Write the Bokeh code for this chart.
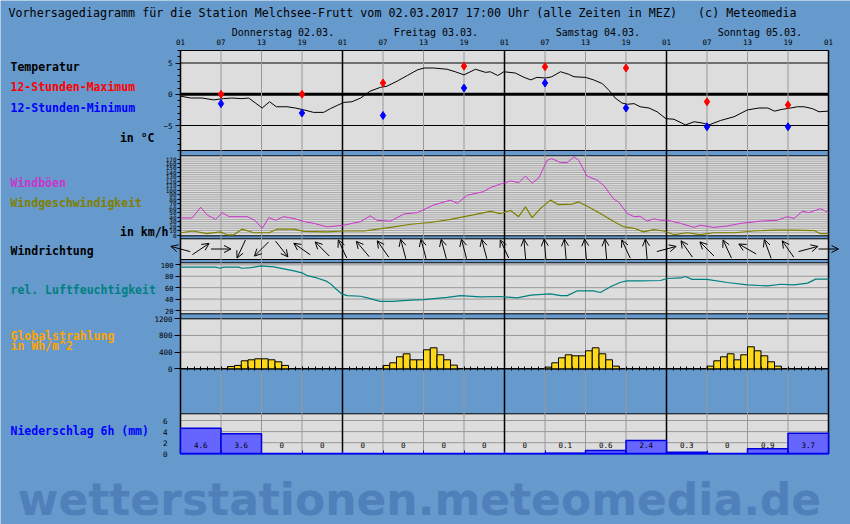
import math
from bokeh.plotting import figure
from bokeh.models import (Range1d, FixedTicker, Label, LinearAxis,
                          ColumnDataSource, Arrow, OpenHead)
from bokeh.core.properties import value
from bokeh.embed import file_html
from bokeh.resources import INLINE

# ---------------- data ----------------
title_text = ("Vorhersagediagramm für die Station Melchsee-Frutt vom 02.03.2017 17:00 Uhr "
              "(alle Zeiten in MEZ)\u00a0\u00a0\u00a0(c) Meteomedia")
day_labels = ["Donnerstag 02.03.", "Freitag 03.03.", "Samstag 04.03.", "Sonntag 05.03."]
hour_ticks = [0, 6, 12, 18, 24, 30, 36, 42, 48, 54, 60, 66, 72, 78, 84, 90, 96]
hour_tick_labels = ["01", "07", "13", "19"] * 4 + ["01"]

# temperature (hours since 02.03. 01:00)
temp_hours = [0, 1.5, 3.2, 4.9, 6.4, 7.6, 9.1, 10.1, 11.1, 12.1, 13.2, 14.2, 15.8, 17, 18.3,
              19.7, 21.2, 22.2, 23.2, 24.2, 25.4, 26.7, 28.1, 29.6, 30.6, 32.1, 33.6, 35.1,
              36.1, 37.5, 39.5, 40.7, 42, 43.7, 45.2, 45.9, 47, 47.9, 49.6, 50.9, 51.9, 52.8,
              54.1, 55, 56.3, 57.5, 58.3, 60, 61.2, 62.5, 63.5, 64.4, 65.4, 66.2, 67.2, 68.1,
              69.4, 70.6, 71.9, 73.1, 74.8, 76.1, 77.3, 78.3, 80, 82, 84, 85.7, 87, 88, 89.2,
              90.4, 91.4, 92.4, 93.6, 94.6, 96]
temp_values = [-0.3, -0.6, -0.6, -0.9, -0.7, -0.6, -0.7, -0.6, -1.4, -2.2, -1.2, -2.0, -2.0,
               -2.2, -2.5, -2.9, -2.9, -2.3, -1.8, -1.3, -1.2, -0.6, 0.5, 1.1, 1.3, 2.1, 3.0,
               3.9, 4.2, 4.2, 4.0, 3.6, 3.1, 4.0, 3.5, 3.6, 3.0, 3.6, 3.4, 2.7, 2.3, 2.7, 2.6,
               2.8, 3.6, 3.2, 2.8, 2.7, 2.3, 1.7, 0.6, -0.6, -1.4, -1.6, -1.5, -2.0, -2.2,
               -2.8, -3.9, -4.0, -4.9, -4.4, -4.6, -4.9, -4.2, -3.6, -2.5, -2.2, -2.2, -2.7,
               -2.4, -2.2, -2.0, -2.0, -2.3, -2.8, -2.7]
ext_hours = [6, 18, 30, 42, 54, 66, 78, 90]
tmax_values = [0.0, 0.0, 1.8, 4.5, 4.4, 4.2, -1.2, -1.7]
tmin_values = [-1.5, -3.0, -3.4, 1.0, 1.8, -2.2, -5.2, -5.2]

# wind gusts (km/h)
gust_hours = [0, 1.7, 3, 4, 5.2, 6.2, 7.2, 9.9, 11, 12.1, 13.1, 14.1, 15.3, 16.8, 18.3, 19.8,
              21.7, 24.2, 26.7, 28.1, 29.1, 31.1, 33.1, 35.1, 37.5, 40, 41, 42.5, 44.9, 45.9,
              47.4, 48.9, 50.1, 51.1, 52.1, 53.1, 54.3, 55, 56.3, 57.3, 58.3, 59, 60.2, 61.7,
              62.7, 64.2, 64.9, 66.2, 67.2, 68.1, 69.1, 70.1, 71.1, 72.1, 74.1, 76.1, 77, 79,
              81, 83, 85.9, 88.4, 89.9, 90.9, 92.1, 93.1, 94.8, 96]
gust_values = [38, 38, 62, 44, 35, 50, 41, 41, 33, 15, 39, 33, 41, 37, 30, 26, 18, 22, 30, 43,
               33, 31, 47, 50, 67, 78, 71, 89, 97, 106, 114, 121, 117, 132, 116, 128, 167, 171,
               162, 162, 175, 167, 132, 123, 111, 80, 74, 48, 41, 42, 31, 36, 33, 33, 26, 17,
               22, 17, 20, 26, 31, 33, 41, 37, 53, 50, 59, 50]
# mean wind speed (km/h)
wind_hours = [0, 1.9, 3.9, 5.9, 6.9, 7.9, 9.1, 10.9, 13.1, 14.3, 16.8, 18.3, 21.7, 24.2, 27.2,
              29.1, 31.1, 34.1, 37, 40, 43, 45.9, 47.4, 48.9, 50.1, 51.1, 52.1, 53.3, 54.8, 56,
              58, 59, 60.2, 62.2, 64.2, 65.7, 67.2, 68.6, 70.1, 71.6, 73.1, 75.1, 77, 79, 82,
              84.9, 87.9, 90.9, 93.9, 94.8, 96]
wind_values = [5, 9, 3, 7, 0.5, 0.5, 13, 5, 5, 13, 13, 8, 7, 9, 9, 13, 17, 24, 28, 35, 44, 53,
               48, 55, 41, 63, 39, 59, 78, 68, 69, 74, 65, 48, 30, 18, 15, 7, 12, 9, 1, 5, 1,
               5, 5, 9, 11, 11, 10, 3, 3]

# wind direction (meteorological degrees, every 3 h)
wdir_hours = [0, 3, 6, 9, 12, 15, 18, 21, 24, 27, 30, 33, 36, 39, 42, 45, 48, 51, 54, 57, 60,
              63, 66, 69, 72, 75, 78, 81, 84, 87, 90, 93, 96]
wdir_deg = [105, 236, 270, 25, 45, 322, 125, 135, 155, 140, 145, 165, 165, 165, 165, 165, 155,
            175, 175, 175, 175, 175, 155, 175, 255, 145, 135, 155, 120, 160, 145, 255, 270]

# relative humidity (%)
hum_hours = [0, 5.2, 5.9, 6.4, 8.6, 9.1, 10.4, 11.9, 13.8, 15.3, 16.8, 18, 18.8, 20.2, 21.5,
             22.2, 23, 23.9, 24.7, 26.7, 27.7, 29.6, 31.4, 34.1, 36.1, 39.5, 41.5, 44.4, 47.4,
             49.9, 51.9, 54.8, 56.3, 57.3, 58.8, 61.2, 62.2, 63.7, 65.2, 66.2, 68.1, 71.1, 72.1,
             74.1, 74.8, 75.8, 78, 81, 84, 87, 88.9, 90.9, 92.9, 94.1, 96]
hum_values = [96, 96, 94, 96, 96, 94, 95, 98, 96.5, 93, 89.5, 86, 81, 77, 72, 67, 58, 49, 46,
              45, 42, 36, 36, 38, 39, 43, 46, 44, 44.5, 42, 47, 49, 46, 46, 54.5, 54.5, 51.5,
              61.5, 69.5, 72, 72, 72.5, 76, 77, 79.5, 74.5, 74.5, 69, 65, 63, 66, 65, 68, 75, 75]

# global radiation (Wh/m^2, hourly bars, start hour)
rad_hours = [7, 8, 9, 10, 11, 12, 13, 14, 15,
             30, 31, 32, 33, 34, 35, 36, 37, 38, 39, 40,
             54, 55, 56, 57, 58, 59, 60, 61, 62, 63, 64,
             78, 79, 80, 81, 82, 83, 84, 85, 86, 87, 88]
rad_values = [55, 80, 192, 216, 240, 240, 216, 168, 80,
              80, 144, 288, 360, 216, 216, 456, 504, 336, 216, 88,
              40, 144, 264, 336, 312, 312, 432, 504, 360, 216, 64,
              64, 192, 288, 360, 216, 336, 528, 432, 312, 168, 64]

# precipitation per 6 h (mm), start hour of each interval
precip_start = [0, 6, 12, 18, 24, 30, 36, 42, 48, 54, 60, 66, 72, 78, 84, 90]
precip_values = [4.6, 3.6, 0, 0, 0, 0, 0, 0, 0, 0.1, 0.6, 2.4, 0.3, 0, 0.9, 3.7]

# ---------------- layout / style ----------------
W, H = 850, 524
BG = "#6699CC"
PANEL = "#DDDDDD"
GRID = "#999999"
MONO = "DejaVu Sans Mono"
HOUR_PX = 648 / 96.0            # pixels per hour
PLOT_LEFT, PLOT_RIGHT = 180, 828
LEFT_X = (10 - PLOT_LEFT) / HOUR_PX

# x: hours ; default y: pixel rows from the top of the picture
p = figure(width=W, height=H,
           x_range=Range1d(-PLOT_LEFT / HOUR_PX, (W - PLOT_LEFT) / HOUR_PX),
           y_range=Range1d(H, 0),
           x_axis_location=None, y_axis_location=None,
           min_border=0, min_border_left=0, min_border_right=0,
           min_border_top=0, min_border_bottom=0,
           toolbar_location=None, output_backend="svg", title=None,
           background_fill_color=BG, border_fill_color=BG, outline_line_color=None)
p.grid.visible = False


def panel_range(v_a, y_a, v_b, y_b):
    s = (v_b - v_a) / (y_b - y_a)
    return Range1d(v_a + (H - y_a) * s, v_a + (0 - y_a) * s)


KMH_PX = 0.447
HUM_PX = 0.571
p.extra_y_ranges = {
    "temp": panel_range(7, 50, -9, 150),
    "wind": panel_range(0, 234.5, 170, 234.5 - 170 * KMH_PX),
    "dir": panel_range(0, 262, 1, 262 - HOUR_PX),
    "hum": panel_range(20, 310, 100, 310 - 80 * HUM_PX),
    "rad": panel_range(0, 368.3, 1200, 318.3),
    "precip": panel_range(0, 453.3, 6, 420),
}

# panel backgrounds (pixel rows)
panel_tops = [50, 155.3, 238.3, 262.3, 318.3, 413.3]
panel_bottoms = [150, 235.3, 259, 313.3, 368.3, 453.3]
p.quad(left=0, right=96, top=panel_tops, bottom=panel_bottoms,
       fill_color=PANEL, line_color=None, level="image")


def hlines(values, rng, color, width=1):
    kw = {} if rng is None else {"y_range_name": rng}
    p.segment(x0=0, x1=96, y0=values, y1=values, line_color=color, line_width=width,
              level="underlay", **kw)


# horizontal lines
hlines([50, 150, 155.3, 235.3, 238.3, 259, 262.3, 313.3, 318.3, 413.3], None, "black", 1)
hlines([v for v in range(5, 180, 5)], "wind", "#A8A8A8", 1)
hlines([-5, 5], "temp", "black", 1)
hlines([0], "temp", "black", 3)
hlines([20, 40, 60, 80, 100], "hum", GRID, 1)
hlines([400, 800], "rad", GRID, 1)
hlines([0], "rad", "black", 1.5)
hlines([2, 4, 6], "precip", GRID, 1)

# vertical lines through all panels
grey_h = [h for h in hour_ticks if h % 24]
day_h = [h for h in hour_ticks if h % 24 == 0]
p.segment(x0=grey_h, x1=grey_h, y0=50, y1=453.3, line_color=GRID, line_width=1, level="underlay")
p.segment(x0=day_h, x1=day_h, y0=50, y1=453.3, line_color="black", line_width=1.5,
          level="underlay")


def y_axis(rng, ticks, lo, hi, size="7.5px", tick_out=5, standoff=2, minor=None):
    ax = LinearAxis(y_range_name=rng, fixed_location=0, bounds=(lo, hi),
                    ticker=FixedTicker(ticks=ticks, minor_ticks=minor or []))
    ax.axis_line_color = None
    ax.major_tick_line_color = "black" if tick_out else None
    ax.major_tick_in = 0
    ax.major_tick_out = tick_out
    ax.minor_tick_line_color = "black" if minor else None
    ax.minor_tick_in = 0
    ax.minor_tick_out = 3
    ax.major_label_text_font = MONO
    ax.major_label_text_font_size = size
    ax.major_label_text_color = "black"
    ax.major_label_standoff = standoff
    p.add_layout(ax, "left")
    return ax


y_axis("temp", [-5, 0, 5], -9, 7, minor=list(range(-9, 8)), standoff=3)
y_axis("wind", list(range(0, 171, 10)), -2, 176, size="6px", tick_out=3, standoff=1)
y_axis("hum", [20, 40, 60, 80, 100], 15, 103, size="7px", tick_out=5)
y_axis("rad", [0, 400, 800, 1200], -10, 1210, size="7.5px", tick_out=6)
y_axis("precip", [0, 2, 4, 6], 0, 7, size="7.5px", tick_out=0, standoff=13)

# hour labels on top
top_ax = LinearAxis(fixed_location=50, bounds=(0, 96), ticker=FixedTicker(ticks=hour_ticks))
top_ax.major_label_overrides = {h: l for h, l in zip(hour_ticks, hour_tick_labels)}
top_ax.axis_line_color = None
top_ax.major_tick_line_color = None
top_ax.minor_tick_line_color = None
top_ax.major_label_text_font = MONO
top_ax.major_label_text_font_size = "7.5px"
top_ax.major_label_text_color = "black"
top_ax.major_label_standoff = 0
p.add_layout(top_ax, "above")

# hourly ticks on the radiation zero line
rad_ax = LinearAxis(y_range_name="rad", fixed_location=0, bounds=(0, 96),
                    ticker=FixedTicker(ticks=list(range(0, 97))))
rad_ax.major_label_overrides = {h: "" for h in range(0, 97)}
rad_ax.axis_line_color = None
rad_ax.major_tick_line_color = "black"
rad_ax.major_tick_in = 2
rad_ax.major_tick_out = 2
rad_ax.minor_tick_line_color = None
p.add_layout(rad_ax, "below")

# blue base line of the precipitation panel
pr_ax = LinearAxis(y_range_name="precip", fixed_location=0, bounds=(0, 96),
                   ticker=FixedTicker(ticks=hour_ticks))
pr_ax.major_label_overrides = {h: "" for h in hour_ticks}
pr_ax.axis_line_color = "#0000FF"
pr_ax.axis_line_width = 1.5
pr_ax.major_tick_line_color = "#0000FF"
pr_ax.major_tick_in = 3
pr_ax.major_tick_out = 0
pr_ax.minor_tick_line_color = None
p.add_layout(pr_ax, "below")

# ---------------- data glyphs ----------------
p.line(temp_hours, temp_values, y_range_name="temp", line_color="black", line_width=1)
p.scatter(ext_hours, tmax_values, y_range_name="temp", marker="diamond", size=8, color="#FF0000")
p.scatter(ext_hours, tmin_values, y_range_name="temp", marker="diamond", size=8, color="#0000FF")

p.line(gust_hours, gust_values, y_range_name="wind", line_color="#CC33CC", line_width=1)
p.line(wind_hours, wind_values, y_range_name="wind", line_color="#808000", line_width=1.2)

yc = 13.5 / HOUR_PX
half = 10.0 / HOUR_PX
xs, ys, xe, ye = [], [], [], []
for h, d in zip(wdir_hours, wdir_deg):
    a = math.radians(270 - d)
    xs.append(h - half * math.cos(a))
    ys.append(yc - half * math.sin(a))
    xe.append(h + half * math.cos(a))
    ye.append(yc + half * math.sin(a))
arrow_src = ColumnDataSource(dict(xs=xs, ys=ys, xe=xe, ye=ye))
p.add_layout(Arrow(end=OpenHead(size=7, line_color="black", line_width=1),
                   x_start="xs", y_start="ys", x_end="xe", y_end="ye", y_range_name="dir",
                   source=arrow_src, line_color="black", line_width=1))

p.line(hum_hours, hum_values, y_range_name="hum", line_color="#008080", line_width=1.2)

p.quad(left=rad_hours, right=[h + 1 for h in rad_hours], bottom=0, top=rad_values,
       y_range_name="rad", fill_color="#FBD81C", line_color="black", line_width=1)

p.quad(left=precip_start, right=[s + 6 for s in precip_start], bottom=0, top=precip_values,
       y_range_name="precip", fill_color="#6666FF", line_color="#0000DD", line_width=1.5)
precip_labels = ["0" if v == 0 else f"{v:g}" for v in precip_values]
p.text(x=[s + 3 for s in precip_start], y=[1.5] * len(precip_start), text=precip_labels,
       y_range_name="precip", text_font=value(MONO), text_font_size="7.5px",
       text_color="black", text_align="center", text_baseline="middle")

# ---------------- texts ----------------


def label(x, y, text, color="black", size="11.5px", bold=True, align="left",
          font=MONO, baseline="middle"):
    p.add_layout(Label(x=x, y=y, text=text, text_color=color, text_font=font,
                       text_font_size=size, text_font_style="bold" if bold else "normal",
                       text_align=align, text_baseline=baseline))


label((8 - PLOT_LEFT) / HOUR_PX, 12, title_text, size="11.7px", bold=False)
for i, d in enumerate(day_labels):
    label(7.6 + 24 * i, 32, d, size="10px", bold=False)
label(LEFT_X, 66.7, "Temperatur")
label(LEFT_X, 86.7, "12-Stunden-Maximum", "#FF0000")
label(LEFT_X, 107.3, "12-Stunden-Minimum", "#0000FF")
label((154 - PLOT_LEFT) / HOUR_PX, 137.3, "in °C", align="right")
label(LEFT_X, 182, "Windböen", "#CC33CC")
label(LEFT_X, 202, "Windgeschwindigkeit", "#808000")
label((168 - PLOT_LEFT) / HOUR_PX, 231.7, "in km/h", align="right")
label(LEFT_X, 250.7, "Windrichtung")
label(LEFT_X, 289.3, "rel. Luftfeuchtigkeit", "#008080")
label(LEFT_X, 335, "Globalstrahlung", "#FFA500")
label(LEFT_X, 345, "in Wh/m^2", "#FFA500")
label(LEFT_X, 430, "Niederschlag 6h (mm)", "#0000FF")
label((419 - PLOT_LEFT) / HOUR_PX, 499, "wetterstationen.meteomedia.de", "#4F80BA",
      size="44px", align="center", font="DejaVu Sans", baseline="middle")

open("out.html", "w").write(file_html(p, INLINE))
